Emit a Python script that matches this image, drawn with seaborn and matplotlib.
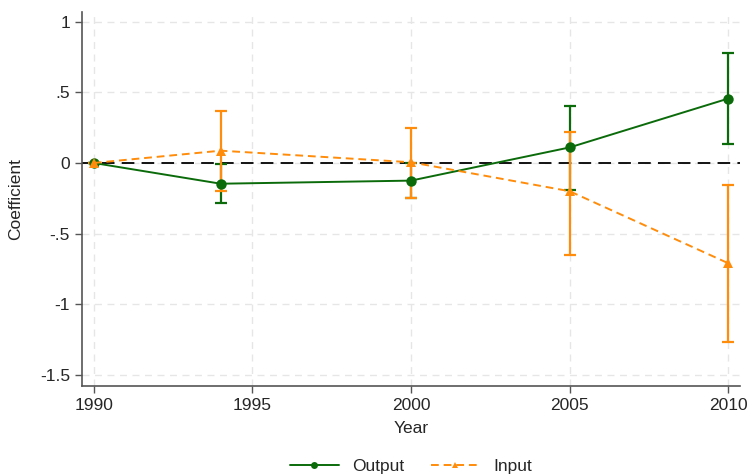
import numpy as np
import pandas as pd
import seaborn as sns
import matplotlib
matplotlib.use('Agg')
import matplotlib.pyplot as plt

# okunan degerler
years = [1990, 1994, 2000, 2005, 2010]
output_coef = [0.0, -0.147, -0.125, 0.11, 0.456]
output_lo = [0.0, -0.286, -0.25, -0.19, 0.135]
output_hi = [0.0, -0.01, 0.0, 0.40, 0.78]
input_coef = [0.0, 0.087, 0.005, -0.20, -0.71]
input_lo = [0.0, -0.20, -0.245, -0.65, -1.27]
input_hi = [0.0, 0.37, 0.25, 0.22, -0.156]

xticks = [1990, 1995, 2000, 2005, 2010]
yticks = [-1.5, -1, -0.5, 0, 0.5, 1]
ytick_labels = ["-1.5", "-1", "-.5", "0", ".5", "1"]

green = "#0b6b0b"
orange = "#ff8c0a"

sns.set_theme(style="white")
plt.rcParams['font.family'] = ['Liberation Sans', 'DejaVu Sans']

df = pd.DataFrame({
    "Year": years * 2,
    "coef": output_coef + input_coef,
    "lo": output_lo + input_lo,
    "hi": output_hi + input_hi,
    "series": ["Output"] * len(years) + ["Input"] * len(years),
})

fig = plt.figure(figsize=(7.5, 4.76), dpi=100)
ax = fig.add_axes([0.109, 0.189, 0.878, 0.786])

# grid
for xt in xticks:
    ax.axvline(xt, color="#e6e6e6", lw=1, ls=(0, (5, 4)), zorder=0)
for yt in yticks:
    ax.axhline(yt, color="#e6e6e6", lw=1, ls=(0, (5, 4)), zorder=0)

ax.axhline(0, color="black", lw=1.3, ls=(0, (7, 4)), zorder=1)

# guven araliklari (confidence intervals)
for name, col in [("Output", green), ("Input", orange)]:
    d = df[df["series"] == name]
    ax.errorbar(d["Year"], d["coef"],
                yerr=[d["coef"] - d["lo"], d["hi"] - d["coef"]],
                fmt="none", ecolor=col, elinewidth=1.6, capsize=4, capthick=1.6, zorder=3)

sns.lineplot(data=df, x="Year", y="coef", hue="series", style="series",
             hue_order=["Output", "Input"], style_order=["Output", "Input"],
             palette={"Output": green, "Input": orange},
             markers={"Output": "o", "Input": "^"},
             dashes={"Output": "", "Input": (4, 2.5)},
             markersize=7.5, markeredgewidth=0, linewidth=1.4, ax=ax, zorder=4)

ax.set_xlim(1989.62, 2010.38)
ax.set_ylim(-1.58, 1.07)
ax.set_xticks(xticks)
ax.set_yticks(yticks)
ax.set_yticklabels(ytick_labels)
ax.set_xlabel("Year", fontsize=12.5, labelpad=6)
ax.set_ylabel("Coefficient", fontsize=12.5, labelpad=12)
ax.tick_params(axis="both", labelsize=12.5, length=5, width=1, color="#555555",
               direction="out", bottom=True, left=True)

for s in ["top", "right"]:
    ax.spines[s].set_visible(False)
for s in ["left", "bottom"]:
    ax.spines[s].set_color("#555555")
    ax.spines[s].set_linewidth(1.2)

leg = ax.legend(title=None, loc="center", bbox_to_anchor=(0.5, -0.215), ncol=2,
                frameon=False, fontsize=12.5, handlelength=2.8, columnspacing=1.5)
for h in leg.get_lines():
    h.set_markersize(5)

plt.savefig("out.png", dpi=100)
